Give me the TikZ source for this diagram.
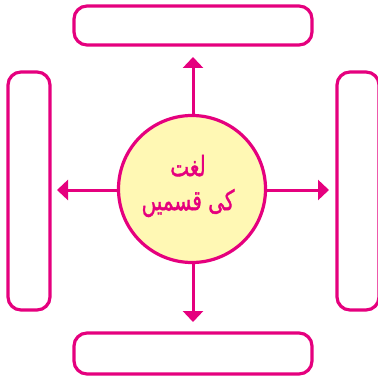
\documentclass[tikz,border=0pt]{standalone}
\usepackage{fontspec}
\newfontfamily\urdufont[Script=Arabic,FakeBold=1.5]{DejaVu Sans}
\TeXXeTstate=1
\usetikzlibrary{arrows.meta}
\definecolor{mag}{HTML}{E5007E}
\definecolor{ylw}{HTML}{FFF8B4}
\tikzset{
  box/.style={draw=mag, line width=3.2pt, rounded corners=13pt, inner sep=0pt},
  hub/.style={circle, draw=mag, fill=ylw, line width=3.2pt, minimum size=147pt, inner sep=0pt},
  arr/.style={draw=mag, line width=3pt, -{Triangle[length=11pt,width=20pt]}}
}
\begin{document}
\begin{tikzpicture}[x=1pt,y=-1pt]
\useasboundingbox (0,0) rectangle (377,382);
\node[box, minimum width=238pt, minimum height=39pt] (topbox) at (193,25.5) {};
\node[box, minimum width=238pt, minimum height=41pt] (botbox) at (193,353.5) {};
\node[box, minimum width=42pt, minimum height=238pt] (leftbox) at (29,191) {};
\node[box, minimum width=42pt, minimum height=238pt] (rightbox) at (358,191) {};
\node[hub] (c) at (192,189) {};
\node[text=mag, align=center, font=\urdufont\fontsize{20}{30}\selectfont] (t) at (188,186) {\scalebox{1}[1.4]{\beginR لغت\endR}\\[4pt]\scalebox{1}[1.4]{\beginR کی قسمیں\endR}};
\coordinate (upt) at (193,57);
\coordinate (dnt) at (193,322);
\coordinate (lft) at (57,190);
\coordinate (rgt) at (329,190);
\draw[arr] (c.north -| upt) -- (upt);
\draw[arr] (c.south -| dnt) -- (dnt);
\draw[arr] (c.west |- lft) -- (lft);
\draw[arr] (c.east |- rgt) -- (rgt);
\end{tikzpicture}
\end{document}
